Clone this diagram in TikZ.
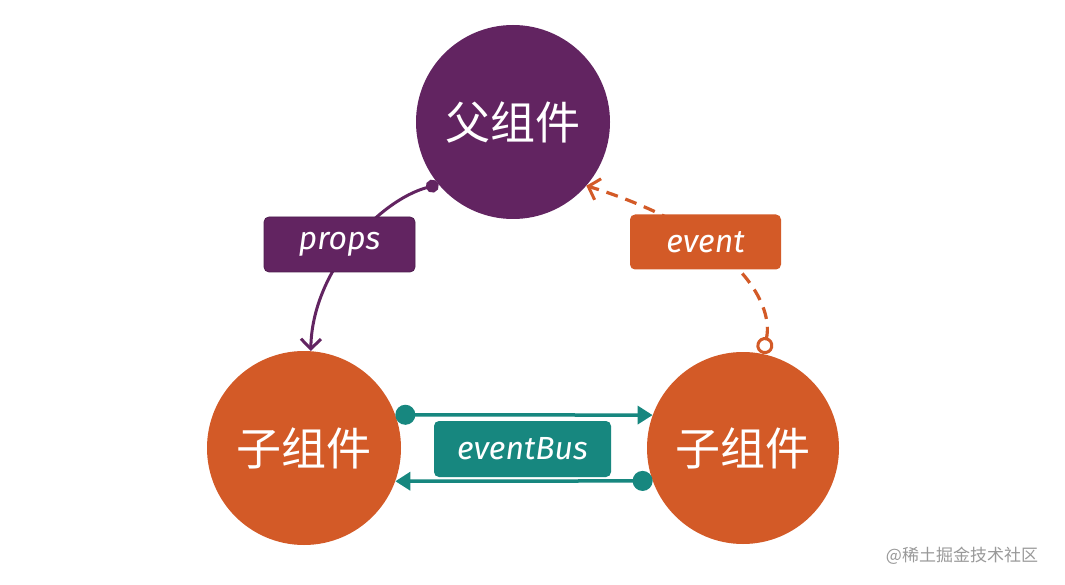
\documentclass[tikz,border=0pt]{standalone}
\usepackage{fontspec}
\usetikzlibrary{arrows.meta}
\newfontfamily\cjk{Noto Sans CJK SC}
\newfontfamily\labfont{Fira Sans}
\definecolor{pur}{HTML}{622461}
\definecolor{org}{HTML}{D35A27}
\definecolor{teal}{HTML}{17877F}
\tikzset{
  comp/.style={circle,minimum size=194pt,inner sep=0pt,text=white,font=\cjk\fontsize{45}{45}\selectfont},
  lab/.style={rounded corners=5pt,minimum width=151pt,minimum height=55pt,text=white,font=\labfont\itshape\fontsize{32}{32}\selectfont},
}
\begin{document}
\begin{tikzpicture}[x=1pt,y=-1pt]
\useasboundingbox[fill=white] (0,0) rectangle (1065,585);
\node[comp,fill=pur] (p) at (513,122) {父组件};
\node[comp,fill=org] (lc) at (304,448) {子组件};
\node[comp,fill=org,minimum size=192pt] (rc) at (743,448) {子组件};
% props
\draw[pur,line width=3pt,{Circle[length=13pt,width=13pt]}-{Straight Barb[length=10pt,width=20pt,line width=3pt]}]
  (p.220) .. controls (380,200) and (312,270) .. (lc.86);
\node[lab,fill=pur,draw=pur!80!black,line width=0.8pt] (props) at (339.5,244.5) {props};
% event
\draw[org,line width=3.2pt,dash pattern=on 12pt off 8pt,{Circle[open,length=17pt,width=17pt,line width=3pt]}-{Straight Barb[length=10pt,width=22pt,line width=3pt]}]
  (rc.78) .. controls (775,300) and (730,230) .. (p.319);
\node[lab,fill=org] (event) at (705.5,242) {event};
% eventBus
\node[lab,fill=teal,minimum width=177pt,minimum height=56pt] (bus) at (522.5,449) {eventBus};
\draw[teal,line width=3.5pt,{Circle[length=20pt,width=20pt]}-{Triangle[length=15pt,width=18pt]}] (lc.20) -- (rc.160);
\draw[teal,line width=3.5pt,{Circle[length=20pt,width=20pt]}-{Triangle[length=15pt,width=18pt]}] (rc.200) -- (lc.340);
\node[text=gray!80,font=\cjk\fontsize{17}{17}\selectfont] (wm) at (962,556) {@稀土掘金技术社区};
\end{tikzpicture}
\end{document}
